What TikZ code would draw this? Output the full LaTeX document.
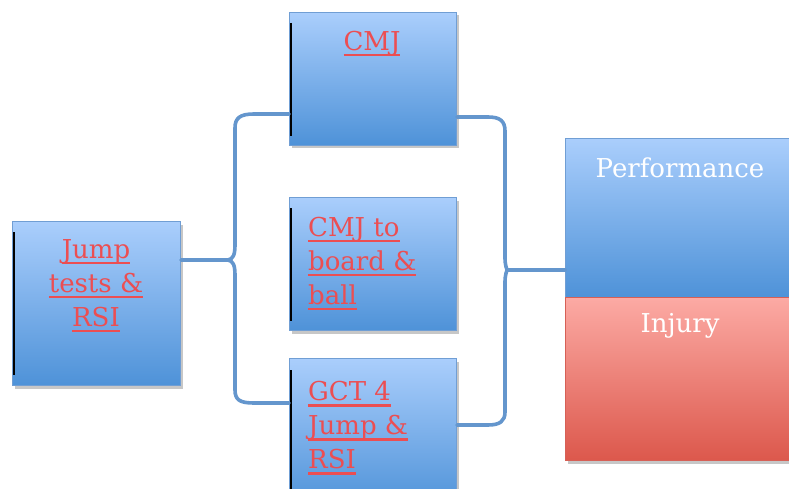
\documentclass[tikz,border=0pt]{standalone}
\usepackage{fontspec}
\setmainfont{DejaVu Serif}
\usetikzlibrary{shadows}
\definecolor{bluetop}{RGB}{170,206,252}
\definecolor{bluebot}{RGB}{78,146,216}
\definecolor{redtop}{RGB}{252,170,164}
\definecolor{redbot}{RGB}{220,88,76}
\definecolor{edgeblue}{RGB}{112,158,212}
\definecolor{edgered}{RGB}{214,96,86}
\definecolor{bracecol}{RGB}{100,150,205}
\definecolor{txtred}{RGB}{236,78,82}
\newcommand{\myul}[1]{\setbox0\hbox{#1}\rlap{\rule[-6pt]{\wd0}{2.2pt}}\box0}
\tikzset{
  shad/.style={drop shadow={opacity=0.22, shadow xshift=2pt, shadow yshift=-3pt, fill=black}},
  bbox/.style={draw=edgeblue, line width=1pt, top color=bluetop, bottom color=bluebot, shad, inner sep=0pt, anchor=north west},
  rbox/.style={draw=edgered, line width=1pt, top color=redtop, bottom color=redbot, shad, inner sep=0pt, anchor=north west},
  lbl/.style={text=txtred, inner sep=0pt, font=\fontsize{26}{34}\selectfont},
  wlbl/.style={text=white, inner sep=0pt, font=\fontsize{26}{34}\selectfont},
  bar/.style={black, line width=1.6pt},
  bracel/.style={draw=bracecol, line width=3.6pt, line join=round, line cap=round}
}
\begin{document}
\begin{tikzpicture}[x=1pt,y=-1pt]
\useasboundingbox (0,0) rectangle (789,489);
\clip (0,0) rectangle (789,489);
\fill[white] (0,0) rectangle (789,489);
% boxes
\node[bbox, minimum width=168pt, minimum height=164pt] (jt) at (12,221) {};
\node[bbox, minimum width=167pt, minimum height=133pt] (cmj) at (289,12) {};
\node[bbox, minimum width=167pt, minimum height=133pt] (cmjb) at (289,197) {};
\node[bbox, minimum width=167pt, minimum height=150pt] (gct) at (289,358) {};
\node[bbox, minimum width=240pt, minimum height=159pt] (perf) at (565,138) {};
\node[rbox, minimum width=240pt, minimum height=163pt] (inj) at (565,297) {};
% black bars
\draw[bar] ([shift={(2,11)}]jt.north west) -- ([shift={(2,-11)}]jt.south west);
\draw[bar] ([shift={(2,11)}]cmj.north west) -- ([shift={(2,-10)}]cmj.south west);
\draw[bar] ([shift={(2,11)}]cmjb.north west) -- ([shift={(2,-10)}]cmjb.south west);
\draw[bar] ([shift={(2,12)}]gct.north west) -- ([shift={(2,140)}]gct.north west);
% labels
\node[lbl, align=center, anchor=north] (tjt) at (96,239) {\myul{Jump}\\\myul{tests \&}\\\myul{RSI}};
\node[lbl, anchor=north] (tcmj) at (372,31) {\myul{CMJ}};
\node[lbl, align=left, anchor=north west] (tcmjb) at (308,217) {\myul{CMJ to}\\\myul{board \&}\\\myul{ball}};
\node[lbl, align=left, anchor=north west] (tgct) at (308,381) {\myul{GCT 4}\\\myul{Jump \&}\\\myul{RSI}};
\node[wlbl, anchor=north] (tperf) at (680,158) {Performance};
\node[wlbl, anchor=north] (tinj) at (680,313) {Injury};
% braces
\coordinate (ltip) at (228,260);
\coordinate (rtip) at (507,270);
\draw[bracel] (jt.east |- ltip) -- (ltip)
  .. controls (233,259) and (235,255) .. (235,245) -- (235,128)
  .. controls (235,118) and (240,114) .. (254,114) -- (cmj.west |- 0,114);
\draw[bracel] (ltip)
  .. controls (233,261) and (235,265) .. (235,275) -- (235,390)
  .. controls (235,400) and (240,403) .. (254,403) -- (gct.west |- 0,403);
\draw[bracel] (cmj.east |- 0,117) -- (488,117)
  .. controls (500,117) and (505,121) .. (505,131) -- (505,258)
  .. controls (505,266) and (507,269) .. (rtip);
\draw[bracel] (rtip) -- (perf.west |- rtip) ;
\draw[bracel] (rtip)
  .. controls (507,271) and (505,274) .. (505,282) -- (505,412)
  .. controls (505,421) and (500,425) .. (488,425) -- (gct.east |- 0,425);
\end{tikzpicture}
\end{document}
